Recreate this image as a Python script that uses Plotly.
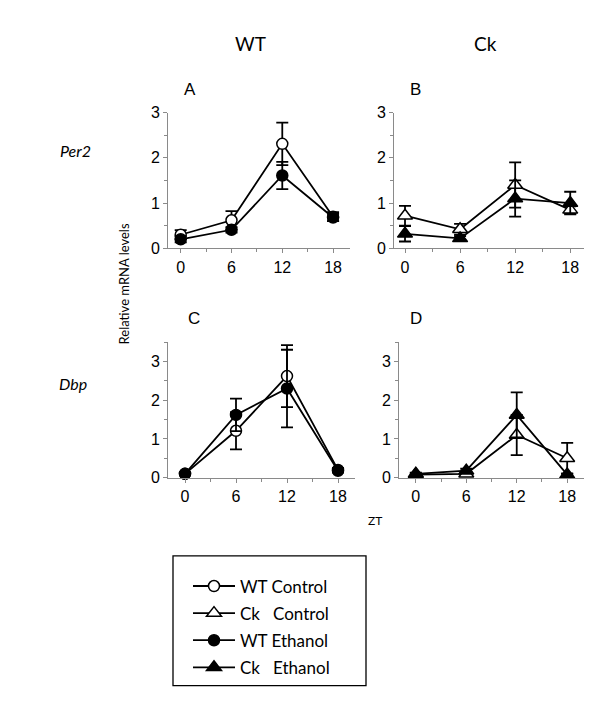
import plotly.graph_objects as go

W, H = 600, 711

zt = [0, 6, 12, 18]

# Per2 (top row)
per2_wt_control = [0.30, 0.62, 2.31, 0.70]
per2_wt_control_err = [0.10, 0.20, 0.47, 0.10]
per2_wt_ethanol = [0.20, 0.41, 1.61, 0.68]
per2_wt_ethanol_err = [0.07, 0.06, 0.30, 0.08]
per2_ck_control = [0.72, 0.42, 1.40, 0.85]
per2_ck_control_err = [0.22, 0.12, 0.50, 0.08]
per2_ck_ethanol = [0.32, 0.22, 1.10, 1.00]
per2_ck_ethanol_err = [0.17, 0.05, 0.40, 0.25]

# Dbp (bottom row)
dbp_wt_control = [0.10, 1.21, 2.62, 0.20]
dbp_wt_control_err = [0.03, 0.48, 0.80, 0.05]
dbp_wt_ethanol = [0.10, 1.62, 2.30, 0.18]
dbp_wt_ethanol_err = [0.03, 0.42, 1.00, 0.05]
dbp_ck_control = [0.08, 0.10, 1.10, 0.50]
dbp_ck_control_err = [0.03, 0.05, 0.52, 0.40]
dbp_ck_ethanol = [0.10, 0.18, 1.62, 0.08]
dbp_ck_ethanol_err = [0.03, 0.05, 0.58, 0.03]

NB = "\u00a0"
series_names = ["WT Control", "Ck" + NB * 3 + "Control", "WT Ethanol", "Ck" + NB * 3 + "Ethanol"]
column_titles = ["WT", "Ck"]
row_titles = ["Per2", "Dbp"]
panel_letters = ["A", "B", "C", "D"]


def px(x):
    return x / W


def py(y):
    return 1 - y / H


styles = {
    0: dict(symbol="circle", color="white", size=11),
    1: dict(symbol="triangle-up", color="white", size=13),
    2: dict(symbol="circle", color="black", size=11),
    3: dict(symbol="triangle-up", color="black", size=13),
}

fig = go.Figure()

panels = [
    ("x", "y", [(0, per2_wt_control, per2_wt_control_err), (2, per2_wt_ethanol, per2_wt_ethanol_err)], True),
    ("x2", "y2", [(1, per2_ck_control, per2_ck_control_err), (3, per2_ck_ethanol, per2_ck_ethanol_err)], True),
    ("x3", "y3", [(0, dbp_wt_control, dbp_wt_control_err), (2, dbp_wt_ethanol, dbp_wt_ethanol_err)], False),
    ("x4", "y4", [(1, dbp_ck_control, dbp_ck_control_err), (3, dbp_ck_ethanol, dbp_ck_ethanol_err)], False),
]

for xa, ya, lst, show in panels:
    for idx, vals, errs in lst:
        st = styles[idx]
        fig.add_trace(go.Scatter(
            x=zt, y=vals, xaxis=xa, yaxis=ya,
            mode="lines+markers",
            name=series_names[idx],
            legendgroup=str(idx),
            legendrank=idx + 1,
            showlegend=show,
            line=dict(color="black", width=1.8),
            marker=dict(symbol=st["symbol"], size=st["size"], color=st["color"],
                        line=dict(color="black", width=1.5)),
            error_y=dict(type="data", array=errs, visible=True, color="black",
                         thickness=1.8, width=6),
            cliponaxis=False,
        ))

tickfont = dict(family="Liberation Sans, Arial", size=16, color="black")
axis_common = dict(showline=True, linecolor="#8a8a8a", linewidth=1,
                   ticks="outside", tickcolor="#8a8a8a", ticklen=4,
                   showgrid=False, zeroline=False, tickfont=tickfont)

xdoms = {
    "x": [px(160), px(342)],
    "x2": [px(386), px(576)],
    "x3": [px(160), px(347)],
    "x4": [px(391), px(576)],
}
ydoms = {
    "y": [py(238), py(99)],
    "y2": [py(238), py(99)],
    "y3": [py(473), py(334)],
    "y4": [py(473), py(334)],
}
xranges = {"x": [-1.5, 20], "x2": [-1.2, 19.5], "x3": [-2, 20], "x4": [-2, 20]}
yranges = {"y": [0, 3], "y2": [0, 3], "y3": [0, 3.5], "y4": [0, 3.5]}

layout_axes = {}
for xa, ya in zip(["x", "x2", "x3", "x4"], ["y", "y2", "y3", "y4"]):
    xname = "xaxis" if xa == "x" else "xaxis" + xa[1:]
    yname = "yaxis" if ya == "y" else "yaxis" + ya[1:]
    layout_axes[xname] = dict(axis_common, domain=xdoms[xa], range=xranges[xa], anchor=ya,
                              tick0=0, dtick=6,
                              minor=dict(dtick=3, ticks="outside", ticklen=3, tickcolor="#8a8a8a"))
    layout_axes[yname] = dict(axis_common, domain=ydoms[ya], range=yranges[ya], anchor=xa,
                              tick0=0, dtick=1,
                              minor=dict(dtick=0.5, ticks="outside", ticklen=3, tickcolor="#8a8a8a"))

txt = dict(family="Lato, Open Sans, sans-serif", color="black")
letter_font = dict(family="Liberation Sans, Arial", size=17, color="black")
annotations = [
    dict(x=px(242), y=py(28), text=column_titles[0], font=dict(txt, size=19)),
    dict(x=px(477), y=py(28), text=column_titles[1], font=dict(txt, size=19)),
    dict(x=px(67), y=py(138), text="<i>" + row_titles[0] + "</i>", font=dict(txt, size=16)),
    dict(x=px(65), y=py(376), text="<i>" + row_titles[1] + "</i>", font=dict(txt, size=16)),
    dict(x=px(182), y=py(75), text=panel_letters[0], font=letter_font),
    dict(x=px(407), y=py(75), text=panel_letters[1], font=letter_font),
    dict(x=px(186), y=py(310), text=panel_letters[2], font=letter_font),
    dict(x=px(408), y=py(310), text=panel_letters[3], font=letter_font),
    dict(x=px(116), y=py(275), text="Relative mRNA levels", textangle=-90, font=dict(txt, size=13)),
    dict(x=px(367), y=py(517), text="ZT", font=dict(txt, size=12)),
]
for a in annotations:
    a.update(xref="paper", yref="paper", showarrow=False, xanchor="center", yanchor="middle")

fig.update_layout(
    width=W, height=H,
    margin=dict(l=0, r=0, t=0, b=0),
    paper_bgcolor="white", plot_bgcolor="white",
    showlegend=True,
    legend=dict(x=px(180), y=py(566), xanchor="left", yanchor="top",
                borderwidth=0, bgcolor="rgba(0,0,0,0)",
                font=dict(txt, size=17), tracegroupgap=2, itemwidth=42,
                traceorder="grouped"),
    shapes=[dict(type="rect", xref="paper", yref="paper",
                 x0=px(165), x1=px(358), y0=py(686), y1=py(553),
                 line=dict(color="black", width=1.3))],
    annotations=annotations,
    **layout_axes,
)

fig.write_html("out.html")
